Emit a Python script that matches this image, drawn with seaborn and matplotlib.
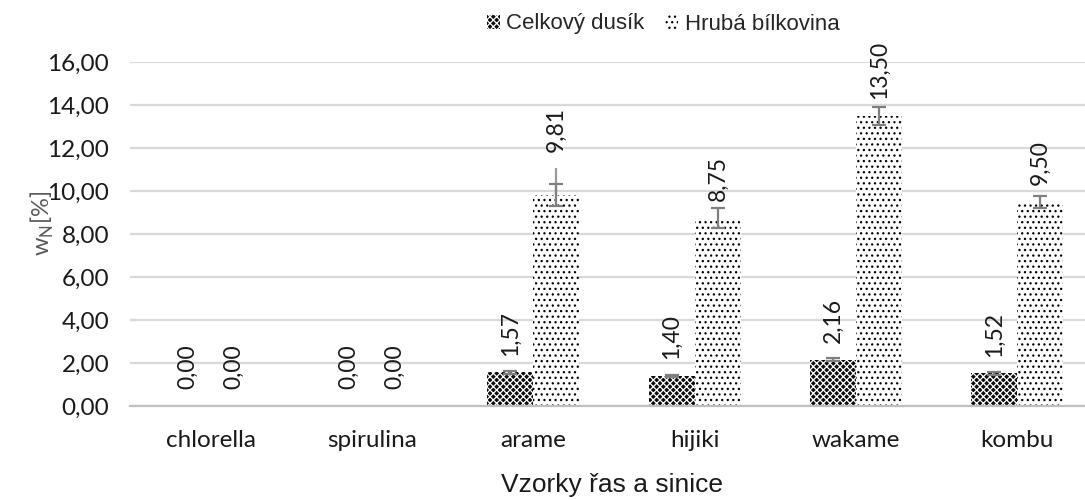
import pandas as pd
import seaborn as sns
import matplotlib.pyplot as plt
import numpy as np
from matplotlib.patches import Patch

samples = ["chlorella", "spirulina", "arame", "hijiki", "wakame", "kombu"]
series = ["Celkový dusík", "Hrubá bílkovina"]
celkovy_dusik = [0.00, 0.00, 1.57, 1.40, 2.16, 1.52]
hruba_bilkovina = [0.00, 0.00, 9.81, 8.75, 13.50, 9.50]
err_dusik = [0.0, 0.0, 0.08, 0.06, 0.07, 0.06]
err_bilkovina = [0.0, 0.0, 0.53, 0.45, 0.42, 0.28]
ext_bilkovina = [0.0, 0.0, 1.24, 0.0, 0.0, 0.0]  # plus line without cap (arame)
y_ticks = [0, 2, 4, 6, 8, 10, 12, 14, 16]

df = pd.DataFrame({
    "vzorek": samples * 2,
    "serie": [series[0]] * len(samples) + [series[1]] * len(samples),
    "w": celkovy_dusik + hruba_bilkovina,
})

sns.set_style("white")
plt.rcParams["font.family"] = ["Lato", "DejaVu Sans"]
plt.rcParams["hatch.linewidth"] = 0.9

fig = plt.figure(figsize=(10.85, 5.0), dpi=100)
# plot area is wider than the picture: right part of the original is cut off
ax = fig.add_axes([130 / 1085, 94 / 500, 968 / 1085, 344 / 500])

sns.barplot(data=df, x="vzorek", y="w", hue="serie", order=samples, hue_order=series,
            width=0.572, errorbar=None, ax=ax, legend=False, saturation=1)

styles = [
    dict(facecolor="#0d0d0d", edgecolor="white", hatch="xxxxx"),
    dict(facecolor="white", edgecolor="black", hatch="..."),
]
errs = [err_dusik, err_bilkovina]
vals = [celkovy_dusik, hruba_bilkovina]
centers = []
for cont, st, err, v in zip(ax.containers, styles, errs, vals):
    xs = []
    for p in cont.patches:
        p.set_facecolor(st["facecolor"])
        p.set_edgecolor(st["edgecolor"])
        p.set_hatch(st["hatch"])
        p.set_linewidth(0)
        xs.append(p.get_x() + p.get_width() / 2)
    xs = np.array(xs)
    e = np.array(err)
    m = e > 0
    ax.errorbar(xs[m], np.array(v)[m], yerr=e[m], fmt="none", ecolor="#7f7f7f",
                elinewidth=1.6, capsize=5, capthick=1.6, zorder=5)
    centers.append(xs)

# extended upper line (no cap)
ext = np.array(ext_bilkovina)
m = ext > 0
ax.errorbar(centers[1][m], np.array(hruba_bilkovina)[m], yerr=[np.zeros(m.sum()), ext[m]],
            fmt="none", ecolor="#9a9a9a", elinewidth=1.6, capsize=0, zorder=4)

# value labels
for xs, v, extra in zip(centers, vals, [np.zeros(len(samples)), ext]):
    for x, val, ex in zip(xs, v, extra):
        ax.annotate(f"{val:.2f}".replace(".", ","), (x, val + ex), xytext=(0, 12),
                    textcoords="offset points", rotation=90, ha="center", va="bottom",
                    fontsize=16.5, color="#1a1a1a")

ax.set_ylim(0, 16)
ax.set_xlim(-0.5, len(samples) - 0.5)
ax.set_yticks(y_ticks)
ax.set_yticklabels([f"{t:.2f}".replace(".", ",") for t in y_ticks])
ax.yaxis.grid(True, color="#d9d9d9", linewidth=1.6)
ax.set_axisbelow(True)
for s in ["top", "right", "left"]:
    ax.spines[s].set_visible(False)
ax.spines["bottom"].set_color("#bfbfbf")
ax.spines["bottom"].set_linewidth(1.6)
ax.tick_params(axis="both", length=0, labelsize=17.5, colors="#1a1a1a")
ax.tick_params(axis="x", pad=17)
ax.tick_params(axis="y", pad=15)

ax.set_xlabel("Vzorky řas a sinice", fontsize=19, family="Liberation Sans",
              color="#1a1a1a", va="center")
ax.set_ylabel(r"w$_\mathregular{N}$[%]", fontsize=17, color="#595959", va="center")
ax.yaxis.set_label_coords(-88 / 968, 0.53)
ax.xaxis.set_label_coords(482 / 968, -79 / 344)

handles = [Patch(facecolor=st["facecolor"], edgecolor=st["edgecolor"], hatch=st["hatch"],
                 linewidth=0) for st in styles]
fig.legend(handles, series, loc="center", bbox_to_anchor=(663 / 1085, 1 - 24 / 500), ncol=2,
           frameon=False, prop={"family": "Liberation Sans", "size": 16},
           handlelength=0.6, handleheight=0.6, handletextpad=0.3, columnspacing=0.9)

fig.savefig("out.png", dpi=100)
